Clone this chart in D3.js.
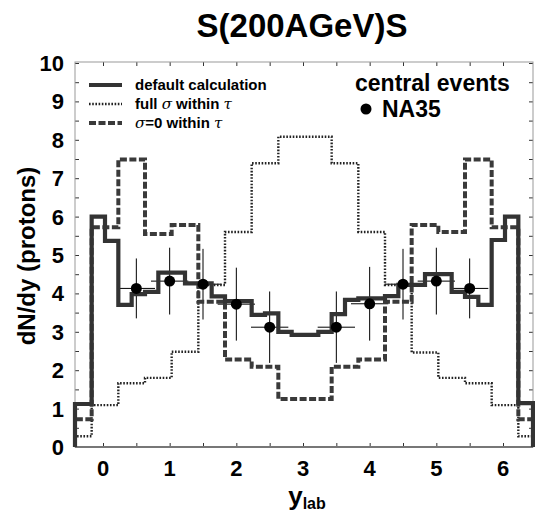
<!DOCTYPE html>
<html><head><meta charset="utf-8">
<script src="https://cdn.jsdelivr.net/npm/d3@7"></script>
<style>body{margin:0;background:#fff} svg{display:block}</style>
</head><body>
<svg id="c" width="535" height="518"></svg>
<script>
// ---- data ----
const defaultEdges = [-0.42, -0.17, 0.03, 0.23, 0.43, 0.63, 0.83, 1.23, 1.63, 1.83, 2.23, 2.43, 2.63, 2.83, 3.23, 3.43, 3.63, 3.83, 4.23, 4.43, 4.83, 5.23, 5.43, 5.63, 5.83, 6.03, 6.23, 6.45];
const defaultValues = [1.12, 6.0, 5.37, 3.7, 3.98, 4.04, 4.54, 4.26, 3.92, 3.8, 3.44, 3.48, 3.0, 2.92, 3.0, 3.46, 3.83, 3.87, 3.93, 4.22, 4.5, 4.04, 3.91, 3.7, 5.39, 6.0, 1.14];
const fullSigmaEdges = [-0.42, -0.17, 0.23, 0.63, 1.03, 1.43, 1.83, 2.23, 2.63, 3.43, 3.83, 4.23, 4.63, 5.03, 5.43, 5.83, 6.23, 6.45];
const fullSigmaValues = [0.28, 1.09, 1.66, 1.8, 2.48, 4.22, 5.6, 7.39, 8.08, 7.39, 5.6, 4.22, 2.46, 1.8, 1.66, 1.09, 0.28];
const sigmaZeroEdges = [-0.42, -0.17, 0.23, 0.63, 1.03, 1.43, 1.83, 2.23, 2.63, 3.43, 3.83, 4.23, 4.63, 5.03, 5.43, 5.83, 6.23, 6.45];
const sigmaZeroValues = [0.72, 5.72, 7.49, 5.55, 5.78, 3.78, 2.28, 2.09, 1.25, 2.09, 2.28, 3.78, 5.78, 5.6, 7.49, 5.72, 0.72];
const na35X = [0.5, 1.0, 1.5, 2.0, 2.5, 3.5, 4.0, 4.5, 5.0, 5.5];
const na35Y = [4.13, 4.32, 4.24, 3.72, 3.12, 3.12, 3.73, 4.24, 4.32, 4.13];
const na35YErr = [0.78, 0.87, 0.92, 0.95, 0.93, 0.93, 0.96, 0.92, 0.87, 0.78];
const na35XErr = [0.28, 0.28, 0.28, 0.28, 0.28, 0.28, 0.28, 0.28, 0.28, 0.28];
const xTickLabels = [0, 1, 2, 3, 4, 5, 6];
const yTickLabels = [0, 1, 2, 3, 4, 5, 6, 7, 8, 9, 10];
const legendLabels = ["default calculation", "full σ within τ", "σ=0 within τ"];

// ---- layout ----
const L = 75, R = 533, T = 62, B = 447;
const x = d3.scaleLinear().domain([-0.42, 6.45]).range([L, R]);
const y = d3.scaleLinear().domain([0, 10]).range([B, T + 1]);
const svg = d3.select("#c");
const font = "'Liberation Sans', Arial, Helvetica, sans-serif";

// title
svg.append("text").attr("x", 302).attr("y", 37).attr("text-anchor", "middle")
  .attr("font-family", font).attr("font-weight", "bold").attr("font-size", 33)
  .text("S(200AGeV)S");

// axes with inward ticks
const minorX = d3.range(0, 6.01, 0.5);
const minorY = d3.range(0, 10.01, 0.5);
const axB = d3.axisBottom(x).tickValues(minorX).tickSize(-4).tickFormat("");
const axT = d3.axisTop(x).tickValues(minorX).tickSize(-4).tickFormat("");
const axL = d3.axisLeft(y).tickValues(minorY).tickSize(-4).tickFormat("");
const axR = d3.axisRight(y).tickValues(minorY).tickSize(-4).tickFormat("");
function styleAxis(g){ g.selectAll(".tick line").attr("stroke","#333").attr("stroke-width",1); }
svg.append("g").attr("transform", `translate(0,${B})`).call(axB).call(styleAxis);
svg.append("g").attr("transform", `translate(0,${T})`).call(axT).call(styleAxis);
svg.append("g").attr("transform", `translate(${L},0)`).call(axL).call(styleAxis);
svg.append("g").attr("transform", `translate(${R},0)`).call(axR).call(styleAxis);
svg.selectAll(".domain").remove();
svg.append("rect").attr("x", L).attr("y", T).attr("width", R - L).attr("height", B - T)
  .attr("fill", "none").attr("stroke", "#999").attr("stroke-width", 1);
svg.append("line").attr("x1", L).attr("x2", R).attr("y1", B).attr("y2", B).attr("stroke", "#777").attr("stroke-width", 2);

// tick labels
svg.append("g").selectAll("text").data(xTickLabels).join("text")
  .attr("x", d => x(d)).attr("y", 476).attr("text-anchor", "middle")
  .attr("font-family", font).attr("font-weight", "bold").attr("font-size", 22)
  .text(d => d);
svg.append("g").selectAll("text").data(yTickLabels).join("text")
  .attr("x", 64).attr("y", d => y(d) + 8).attr("text-anchor", "end")
  .attr("font-family", font).attr("font-weight", "bold").attr("font-size", 22)
  .text(d => d);

// axis titles
const xl = svg.append("text").attr("x", 307).attr("y", 505).attr("text-anchor", "middle")
  .attr("font-family", font).attr("font-weight", "bold");
xl.append("tspan").attr("font-size", 26).text("y");
xl.append("tspan").attr("font-size", 16).attr("dy", 4).text("lab");
svg.append("text").attr("transform", "translate(35,256) rotate(-90)").attr("text-anchor", "middle")
  .attr("font-family", font).attr("font-weight", "bold").attr("font-size", 24)
  .text("dN/dy (protons)");

// histograms
function stepPts(edges, vals){
  const p = [[edges[0], 0]];
  vals.forEach((v, i) => { p.push([edges[i], v]); p.push([edges[i + 1], v]); });
  p.push([edges[edges.length - 1], 0]);
  return p;
}
const line = d3.line().x(d => x(d[0])).y(d => y(d[1]));
const styles = [
  {stroke: "#222", width: 2.4, dash: "1.6,1.6"},
  {stroke: "#3a3a3a", width: 4, dash: "7,2.5"},
  {stroke: "#333", width: 4.2, dash: null}
];
// error bars
const eb = svg.append("g").attr("stroke", "#000").attr("stroke-width", 1);
eb.selectAll("line.v").data(na35X).join("line").attr("class", "v")
  .attr("x1", d => x(d)).attr("x2", d => x(d))
  .attr("y1", (d, i) => y(na35Y[i] - na35YErr[i])).attr("y2", (d, i) => y(na35Y[i] + na35YErr[i]));
eb.selectAll("line.h").data(na35X).join("line").attr("class", "h")
  .attr("x1", (d, i) => x(d - na35XErr[i])).attr("x2", (d, i) => x(d + na35XErr[i]))
  .attr("y1", (d, i) => y(na35Y[i])).attr("y2", (d, i) => y(na35Y[i]));

const series = [[fullSigmaEdges, fullSigmaValues], [sigmaZeroEdges, sigmaZeroValues], [defaultEdges, defaultValues]];
series.forEach((s, k) => {
  svg.append("path").attr("d", line(stepPts(s[0], s[1]))).attr("fill", "none")
    .attr("stroke", styles[k].stroke).attr("stroke-width", styles[k].width)
    .attr("stroke-dasharray", styles[k].dash).attr("stroke-linejoin", "miter");
});

// points
svg.append("g").selectAll("circle").data(na35X).join("circle")
  .attr("cx", d => x(d)).attr("cy", (d, i) => y(na35Y[i])).attr("r", 5.5).attr("fill", "#000");

// legend
const legOrder = [2, 0, 1];
const legY = [85, 104, 123];
legOrder.forEach((k, i) => {
  svg.append("line").attr("x1", 89).attr("x2", 122).attr("y1", legY[i]).attr("y2", legY[i])
    .attr("stroke", styles[k].stroke).attr("stroke-width", styles[k].width).attr("stroke-dasharray", styles[k].dash);
});
function legText(yy, parts){
  const t = svg.append("text").attr("x", 135).attr("y", yy + 5).attr("font-family", font).attr("font-size", 15).attr("font-weight", "bold");
  parts.forEach(p => {
    const ts = t.append("tspan").text(p[0]);
    if (p[1]) ts.attr("font-family", "'DejaVu Serif', 'Liberation Serif', serif").attr("font-style", "italic").attr("font-weight", "normal");
  });
}
legText(legY[0], [[legendLabels[0]]]);
legText(legY[1], [["full "], ["σ", 1], [" within "], ["τ", 1]]);
legText(legY[2], [["σ", 1], ["=0 within "], ["τ", 1]]);

svg.append("text").attr("x", 355).attr("y", 91).attr("font-family", font).attr("font-weight", "bold").attr("font-size", 23).text("central events");
svg.append("circle").attr("cx", 366).attr("cy", 109).attr("r", 5.5).attr("fill", "#000");
svg.append("text").attr("x", 382).attr("y", 117).attr("font-family", font).attr("font-weight", "bold").attr("font-size", 23).text("NA35");
</script>
</body></html>
